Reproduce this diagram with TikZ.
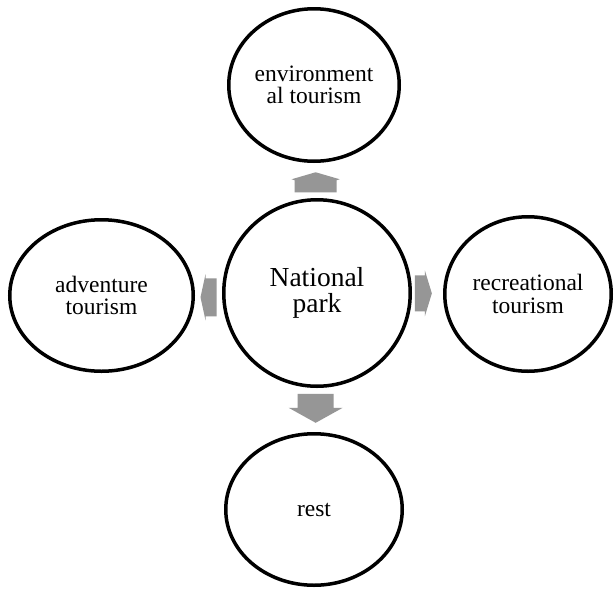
\documentclass[tikz,border=0pt]{standalone}
\usepackage{fontspec}
\setmainfont{Liberation Serif}
\usetikzlibrary{shapes.geometric,calc}
\definecolor{arrowgray}{RGB}{150,150,150}
\begin{document}
\begin{tikzpicture}[x=1pt,y=-1pt,
  bubble/.style={ellipse,draw=black,line width=3.5pt,fill=white,inner sep=0pt,align=center,
    font=\fontsize{23.5}{22.5}\selectfont},
  blockarrow/.style={fill=arrowgray,draw=none}]
\useasboundingbox[fill=white] (0,0) rectangle (614,590);
\node[bubble,minimum width=186.5pt,minimum height=186.5pt,font=\fontsize{27.5}{26}\selectfont] (np) at (317,293) {National\\park};
\node[bubble,minimum width=170.5pt,minimum height=152.5pt] (env) at (314,85) {environment\\al tourism};
\node[bubble,minimum width=183.5pt,minimum height=151.5pt] (adv) at (101.5,295.5) {adventure\\tourism};
\node[bubble,minimum width=166.5pt,minimum height=154.5pt] (rec) at (528,294) {recreational\\tourism};
\node[bubble,minimum width=176.5pt,minimum height=151.5pt] (rest) at (314,509.5) {rest};
\coordinate (aup) at ($(np.north)!0.45!(env.south)$);
\coordinate (adown) at ($(np.south)!0.45!(rest.north)$);
\coordinate (aleft) at ($(np.west)!0.5!(adv.east)+(0,3)$);
\coordinate (aright) at ($(np.east)!0.35!(rec.west)$);
\fill[blockarrow,shift={(aup)}] (0,-10) -- (24,-3) -- (21,-2) -- (21,10) -- (-21,10) -- (-21,-2) -- (-24,-3) -- cycle;
\fill[blockarrow,shift={(adown)}] (-18,-14) -- (18,-14) -- (18,0) -- (27,0) -- (0,15) -- (-27,0) -- (-18,0) -- cycle;
\fill[blockarrow,shift={(aleft)}] (-8,0) -- (-3,-23) -- (-3,-19) -- (8,-19) -- (8,19) -- (-3,19) -- (-3,23) -- cycle;
\fill[blockarrow,shift={(aright)}] (9,0) -- (2,-23) -- (2,-18) -- (-8,-18) -- (-8,18) -- (2,18) -- (2,23) -- cycle;
\end{tikzpicture}
\end{document}
